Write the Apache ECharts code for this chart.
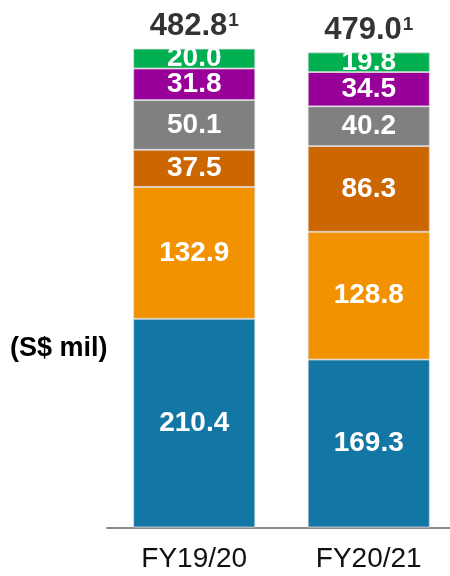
<!DOCTYPE html>
<html>
<head>
<meta charset="utf-8">
<script src="https://cdn.jsdelivr.net/npm/echarts@6/dist/echarts.min.js"></script>
<style>
  html, body { margin: 0; padding: 0; background: #fff; }
  #chart { width: 450px; height: 576px; }
</style>
</head>
<body>
<div id="chart"></div>
<script>
// Revenue breakdown by segment (S$ mil)
const categories = ['FY19/20', 'FY20/21'];
const segBlue = [210.4, 169.3];
const segOrange = [132.9, 128.8];
const segDarkOrange = [37.5, 86.3];
const segGray = [50.1, 40.2];
const segPurple = [31.8, 34.5];
const segGreen = [20.0, 19.8];
const totals = [482.8, 479.0];
const unitLabel = '(S$ mil)';

const FONT = 'Arial, "Liberation Sans", sans-serif';

function stackSeries(name, data, color) {
  return {
    name: name,
    type: 'bar',
    stack: 'total',
    barWidth: 122,
    data: data,
    itemStyle: { color: color, borderColor: '#dcdcdc', borderWidth: 0.8 },
    label: {
      show: true,
      position: 'inside',
      color: '#fff',
      fontFamily: FONT,
      fontWeight: 'bold',
      fontSize: 28,
      formatter: p => p.value.toFixed(1)
    },
    emphasis: { disabled: true }
  };
}

const chart = echarts.init(document.getElementById('chart'), null, { renderer: 'canvas' });
chart.setOption({
  animation: false,
  grid: { left: 107, width: 349, top: 31.5, bottom: 48.5, containLabel: false, outerBoundsMode: 'none' },
  xAxis: {
    type: 'category',
    data: categories,
    axisLine: { lineStyle: { color: '#8c8c8c', width: 2 } },
    axisTick: { show: false },
    axisLabel: {
      color: '#111',
      fontFamily: FONT,
      fontSize: 28,
      margin: 17,
      lineHeight: 30
    }
  },
  yAxis: {
    type: 'value',
    min: 0,
    max: 500,
    show: false,
    splitLine: { show: false }
  },
  series: [
    stackSeries('A', segBlue, '#1277A5'),
    stackSeries('B', segOrange, '#F39200'),
    stackSeries('C', segDarkOrange, '#CC6600'),
    stackSeries('D', segGray, '#808080'),
    stackSeries('E', segPurple, '#990099'),
    stackSeries('F', segGreen, '#00B050'),
    {
      name: 'Total',
      type: 'scatter',
      symbolSize: 0,
      data: totals,
      label: {
        show: true,
        position: 'top',
        distance: 6,
        formatter: p => '{v|' + p.value.toFixed(1) + '}{s|1}',
        rich: {
          v: { fontFamily: FONT, fontWeight: 'bold', fontSize: 31, color: '#000', lineHeight: 32 },
          s: { fontFamily: FONT, fontWeight: 'bold', fontSize: 19, color: '#000', padding: [0, 0, 12, 1] }
        }
      },
      emphasis: { disabled: true }
    }
  ],
  graphic: [
    {
      type: 'text',
      left: 10,
      top: 335,
      style: {
        text: unitLabel,
        fontFamily: FONT,
        fontWeight: 'bold',
        fontSize: 27,
        fill: '#000'
      }
    }
  ]
});
</script>
</body>
</html>
